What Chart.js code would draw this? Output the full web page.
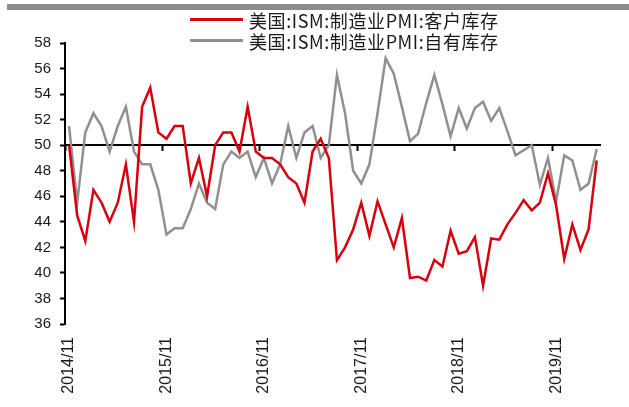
<!DOCTYPE html>
<html>
<head>
<meta charset="utf-8">
<script src="https://cdn.jsdelivr.net/npm/chart.js@4.4.1/dist/chart.umd.min.js"></script>
<style>
  html, body { margin: 0; padding: 0; background: #fff; }
  #wrap { position: relative; width: 629px; height: 407px; }
  #topbar { position: absolute; left: 7px; top: 4px; width: 622px; height: 6px; background: #8c8c8c; }
  #legend { position: absolute; left: 190px; top: 9px; font-family: "Noto Sans CJK SC", sans-serif; font-size: 18px; letter-spacing: 0.6px; color: #1a1a1a; }
  .row { display: flex; align-items: center; height: 21px; white-space: nowrap; }
  .swatch { width: 53px; height: 3px; margin-right: 6px; }
</style>
</head>
<body>
<div id="wrap">
  <canvas id="myChart" width="629" height="407"></canvas>
  <div id="topbar"></div>
  <div id="legend"></div>
</div>
<script>
// monthly, 2014/11 .. 2020/04
var months = [
  "2014/11","2014/12",
  "2015/01","2015/02","2015/03","2015/04","2015/05","2015/06","2015/07","2015/08","2015/09","2015/10","2015/11","2015/12",
  "2016/01","2016/02","2016/03","2016/04","2016/05","2016/06","2016/07","2016/08","2016/09","2016/10","2016/11","2016/12",
  "2017/01","2017/02","2017/03","2017/04","2017/05","2017/06","2017/07","2017/08","2017/09","2017/10","2017/11","2017/12",
  "2018/01","2018/02","2018/03","2018/04","2018/05","2018/06","2018/07","2018/08","2018/09","2018/10","2018/11","2018/12",
  "2019/01","2019/02","2019/03","2019/04","2019/05","2019/06","2019/07","2019/08","2019/09","2019/10","2019/11","2019/12",
  "2020/01","2020/02","2020/03","2020/04"
];
var tickLabels = ["2014/11", "2015/11", "2016/11", "2017/11", "2018/11", "2019/11"];

var customerInv = [
  50.0, 44.5, 42.5, 46.5, 45.5, 44.0, 45.5, 48.5, 44.0, 53.0, 54.5, 51.0,
  50.5, 51.5, 51.5, 47.0, 49.0, 46.0, 50.0, 51.0, 51.0, 49.5, 53.0, 49.5,
  49.0, 49.0, 48.5, 47.5, 47.0, 45.5, 49.5, 50.5, 49.0, 41.0, 42.0, 43.4,
  45.5, 42.9, 45.6, 43.8, 42.0, 44.3, 39.6, 39.7, 39.4, 41.0, 40.5, 43.3,
  41.5, 41.7, 42.8, 39.0, 42.7, 42.6, 43.8, 44.7, 45.7, 44.9, 45.5, 47.8,
  45.3, 41.1, 43.8, 41.8, 43.4, 48.8
];
var ownInv = [
  51.5, 45.5, 51.0, 52.5, 51.5, 49.5, 51.5, 53.0, 49.5, 48.5, 48.5, 46.5,
  43.0, 43.5, 43.5, 45.0, 47.0, 45.5, 45.0, 48.5, 49.5, 49.0, 49.5, 47.5,
  49.0, 47.0, 48.5, 51.5, 49.0, 51.0, 51.5, 49.0, 50.0, 55.5, 52.5, 48.0,
  47.0, 48.5, 52.5, 56.8, 55.6, 53.0, 50.3, 50.9, 53.3, 55.5, 53.2, 50.7,
  52.9, 51.3, 52.9, 53.4, 51.9, 52.9, 51.1, 49.2, 49.6, 50.0, 46.9, 49.0,
  45.6, 49.2, 48.8, 46.5, 47.0, 49.7
];

var seriesNames = ["美国:ISM:制造业PMI:客户库存", "美国:ISM:制造业PMI:自有库存"];
var seriesColors = ["#d7000f", "#909090"];

var yFont = { family: "'Liberation Sans', Arial, sans-serif", size: 15 };
var xFont = { family: "'Liberation Sans', Arial, sans-serif", size: 16 };

var chart = new Chart("myChart", {
  type: "line",
  data: {
    labels: months,
    datasets: [
      { label: seriesNames[0], data: customerInv, borderColor: seriesColors[0], backgroundColor: seriesColors[0],
        borderWidth: 2.5, pointRadius: 0, tension: 0, xAxisID: "x", yAxisID: "y" },
      { label: seriesNames[1], data: ownInv, borderColor: seriesColors[1], backgroundColor: seriesColors[1],
        borderWidth: 2.5, pointRadius: 0, tension: 0, xAxisID: "x", yAxisID: "y" }
    ]
  },
  options: {
    responsive: false,
    animation: false,
    layout: { padding: { top: 43, right: 13, bottom: 0, left: 0 } },
    plugins: { legend: { display: false }, tooltip: { enabled: false } },
    scales: {
      x: {
        type: "category",
        offset: true,
        grid: { display: false, drawTicks: false },
        border: { display: false },
        ticks: {
          autoSkip: false, maxRotation: 90, minRotation: 90, padding: 13,
          color: "#1a1a1a", font: xFont,
          callback: function (v) {
            var l = this.getLabelForValue(v);
            return tickLabels.indexOf(l) >= 0 ? l : "";
          }
        },
        afterFit: function (s) { s.height = 83; }
      },
      x50: {
        type: "category",
        axis: "x",
        position: { y: 50 },
        offset: true,
        grid: {
          offset: true, drawOnChartArea: false, drawTicks: true, tickLength: 5, tickWidth: 2,
          tickColor: function (ctx) { return ctx.index % 12 === 0 ? "#000" : "rgba(0,0,0,0)"; }
        },
        border: { display: true, color: "#000", width: 2 },
        ticks: { display: false }
      },
      y: {
        min: 36, max: 58,
        grid: { drawOnChartArea: false, drawTicks: true, tickLength: 5, tickWidth: 2, tickColor: "#000" },
        border: { display: true, color: "#000", width: 2 },
        ticks: { stepSize: 2, padding: 9, color: "#1a1a1a", font: yFont },
        afterFit: function (s) { s.width = 65; }
      }
    }
  }
});

// legend rows built from the datasets
var lg = document.getElementById("legend");
chart.data.datasets.forEach(function (ds) {
  var row = document.createElement("div");
  row.className = "row";
  var sw = document.createElement("span");
  sw.className = "swatch";
  sw.style.background = ds.borderColor;
  var tx = document.createElement("span");
  tx.textContent = ds.label;
  row.appendChild(sw);
  row.appendChild(tx);
  lg.appendChild(row);
});
</script>
</body>
</html>
